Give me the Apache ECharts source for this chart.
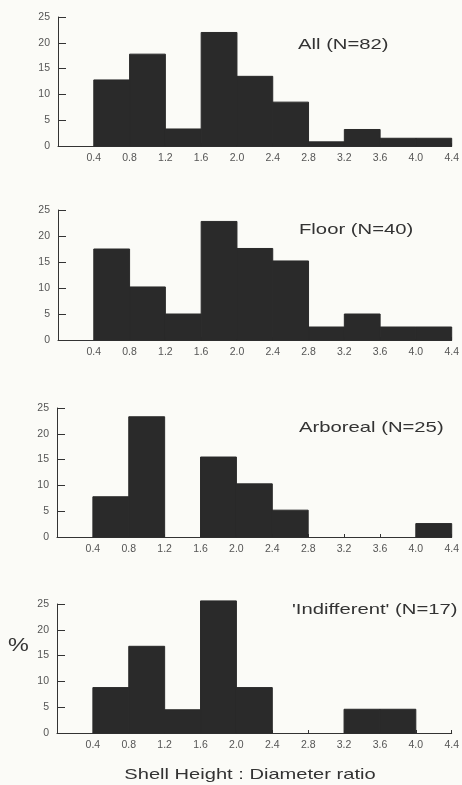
<!DOCTYPE html>
<html>
<head>
<meta charset="utf-8">
<script src="https://cdn.jsdelivr.net/npm/echarts@6/dist/echarts.min.js"></script>
<style>
  html, body { margin: 0; padding: 0; background: #fbfbf7; }
  #main { width: 462px; height: 785px; }
</style>
</head>
<body>
<div id="main"></div>
<script>
// bin edges of the histogram (Shell height : diameter ratio)
var binEdges = [0.4, 0.8, 1.2, 1.6, 2.0, 2.4, 2.8, 3.2, 3.6, 4.0, 4.4];
var yTicks = [0, 5, 10, 15, 20, 25];

// % in each bin
var allPct = [12.8, 17.8, 3.3, 22.0, 13.5, 8.5, 0.8, 3.2, 1.5, 1.5];
var floorPct = [17.5, 10.2, 5.0, 22.8, 17.6, 15.2, 2.5, 5.0, 2.5, 2.5];
var arborealPct = [7.8, 23.3, 0, 15.5, 10.3, 5.2, 0, 0, 0, 2.6];
var indifferentPct = [8.8, 16.8, 4.5, 25.6, 8.8, 0, 0, 4.6, 4.6, 0];

var panelNames = ['All (N=82)', 'Floor (N=40)', 'Arboreal (N=25)', "'Indifferent' (N=17)"];
var panelData = [allPct, floorPct, arborealPct, indifferentPct];

var gridTops = [17, 210, 408, 604];
var gridHeights = [129, 130, 129, 129];
var gridLefts = [58, 58, 57, 57];
var titleY = [45, 230, 428, 610];
var titleX = [298, 299, 299, 292];

var barColor = '#2a2a2a';
var inkColor = '#333';
var labelColor = '#555';

var grids = [], xAxes = [], yAxes = [], series = [], graphics = [];

for (var i = 0; i < 4; i++) {
	grids.push({ left: gridLefts[i], right: 8, top: gridTops[i], height: gridHeights[i] });
	xAxes.push({
		type: 'value', gridIndex: i, min: 0, max: 4.4, interval: 0.4,
		axisLine: { lineStyle: { color: inkColor, width: 1 } },
		axisTick: { show: true, inside: true, length: 3, lineStyle: { color: inkColor } },
		splitLine: { show: false },
		axisLabel: {
			margin: 7, fontSize: 10.5, color: labelColor, fontFamily: 'Liberation Sans',
			formatter: function (v) { return v === 0 ? '' : v.toFixed(1); }
		}
	});
	yAxes.push({
		type: 'value', gridIndex: i, min: yTicks[0], max: yTicks[yTicks.length - 1], interval: 5,
		axisLine: { show: true, lineStyle: { color: inkColor, width: 1 } },
		axisTick: { show: true, inside: true, length: 8, lineStyle: { color: inkColor } },
		splitLine: { show: false },
		axisLabel: { margin: 8, fontSize: 10.5, color: labelColor, fontFamily: 'Liberation Sans' }
	});
	var data = panelData[i].map(function (v, k) { return [binEdges[k], binEdges[k + 1], v]; });
	series.push({
		type: 'custom', xAxisIndex: i, yAxisIndex: i, clip: false,
		renderItem: function (params, api) {
			if (!api.value(2)) return null;
			var p0 = api.coord([api.value(0), 0]);
			var p1 = api.coord([api.value(1), api.value(2)]);
			return {
				type: 'rect',
				shape: { x: p0[0], y: p1[1], width: p1[0] - p0[0], height: p0[1] - p1[1] },
				style: { fill: barColor, stroke: barColor, lineWidth: 1 }
			};
		},
		encode: { x: [0, 1], y: 2 },
		data: data
	});
	graphics.push({
		type: 'text', x: titleX[i], y: titleY[i], scaleX: 1.35,
		style: {
			text: panelNames[i], fill: inkColor, font: '15px "Liberation Sans"',
			textVerticalAlign: 'middle', verticalAlign: 'middle'
		}
	});
}

graphics.push({
	type: 'text', x: 8, y: 646, scaleX: 1.3,
	style: { text: '%', fill: inkColor, font: '18px "Liberation Sans"', textVerticalAlign: 'middle', verticalAlign: 'middle' }
});
graphics.push({
	type: 'text', x: 250, y: 775, scaleX: 1.34,
	style: {
		text: 'Shell Height : Diameter ratio', fill: inkColor, font: '15px "Liberation Sans"',
		textAlign: 'center', align: 'center', textVerticalAlign: 'middle', verticalAlign: 'middle'
	}
});

var myChart = echarts.init(document.getElementById('main'));
myChart.setOption({
	backgroundColor: '#fbfbf7',
	animation: false,
	grid: grids,
	xAxis: xAxes,
	yAxis: yAxes,
	series: series,
	graphic: graphics
});
</script>
</body>
</html>
